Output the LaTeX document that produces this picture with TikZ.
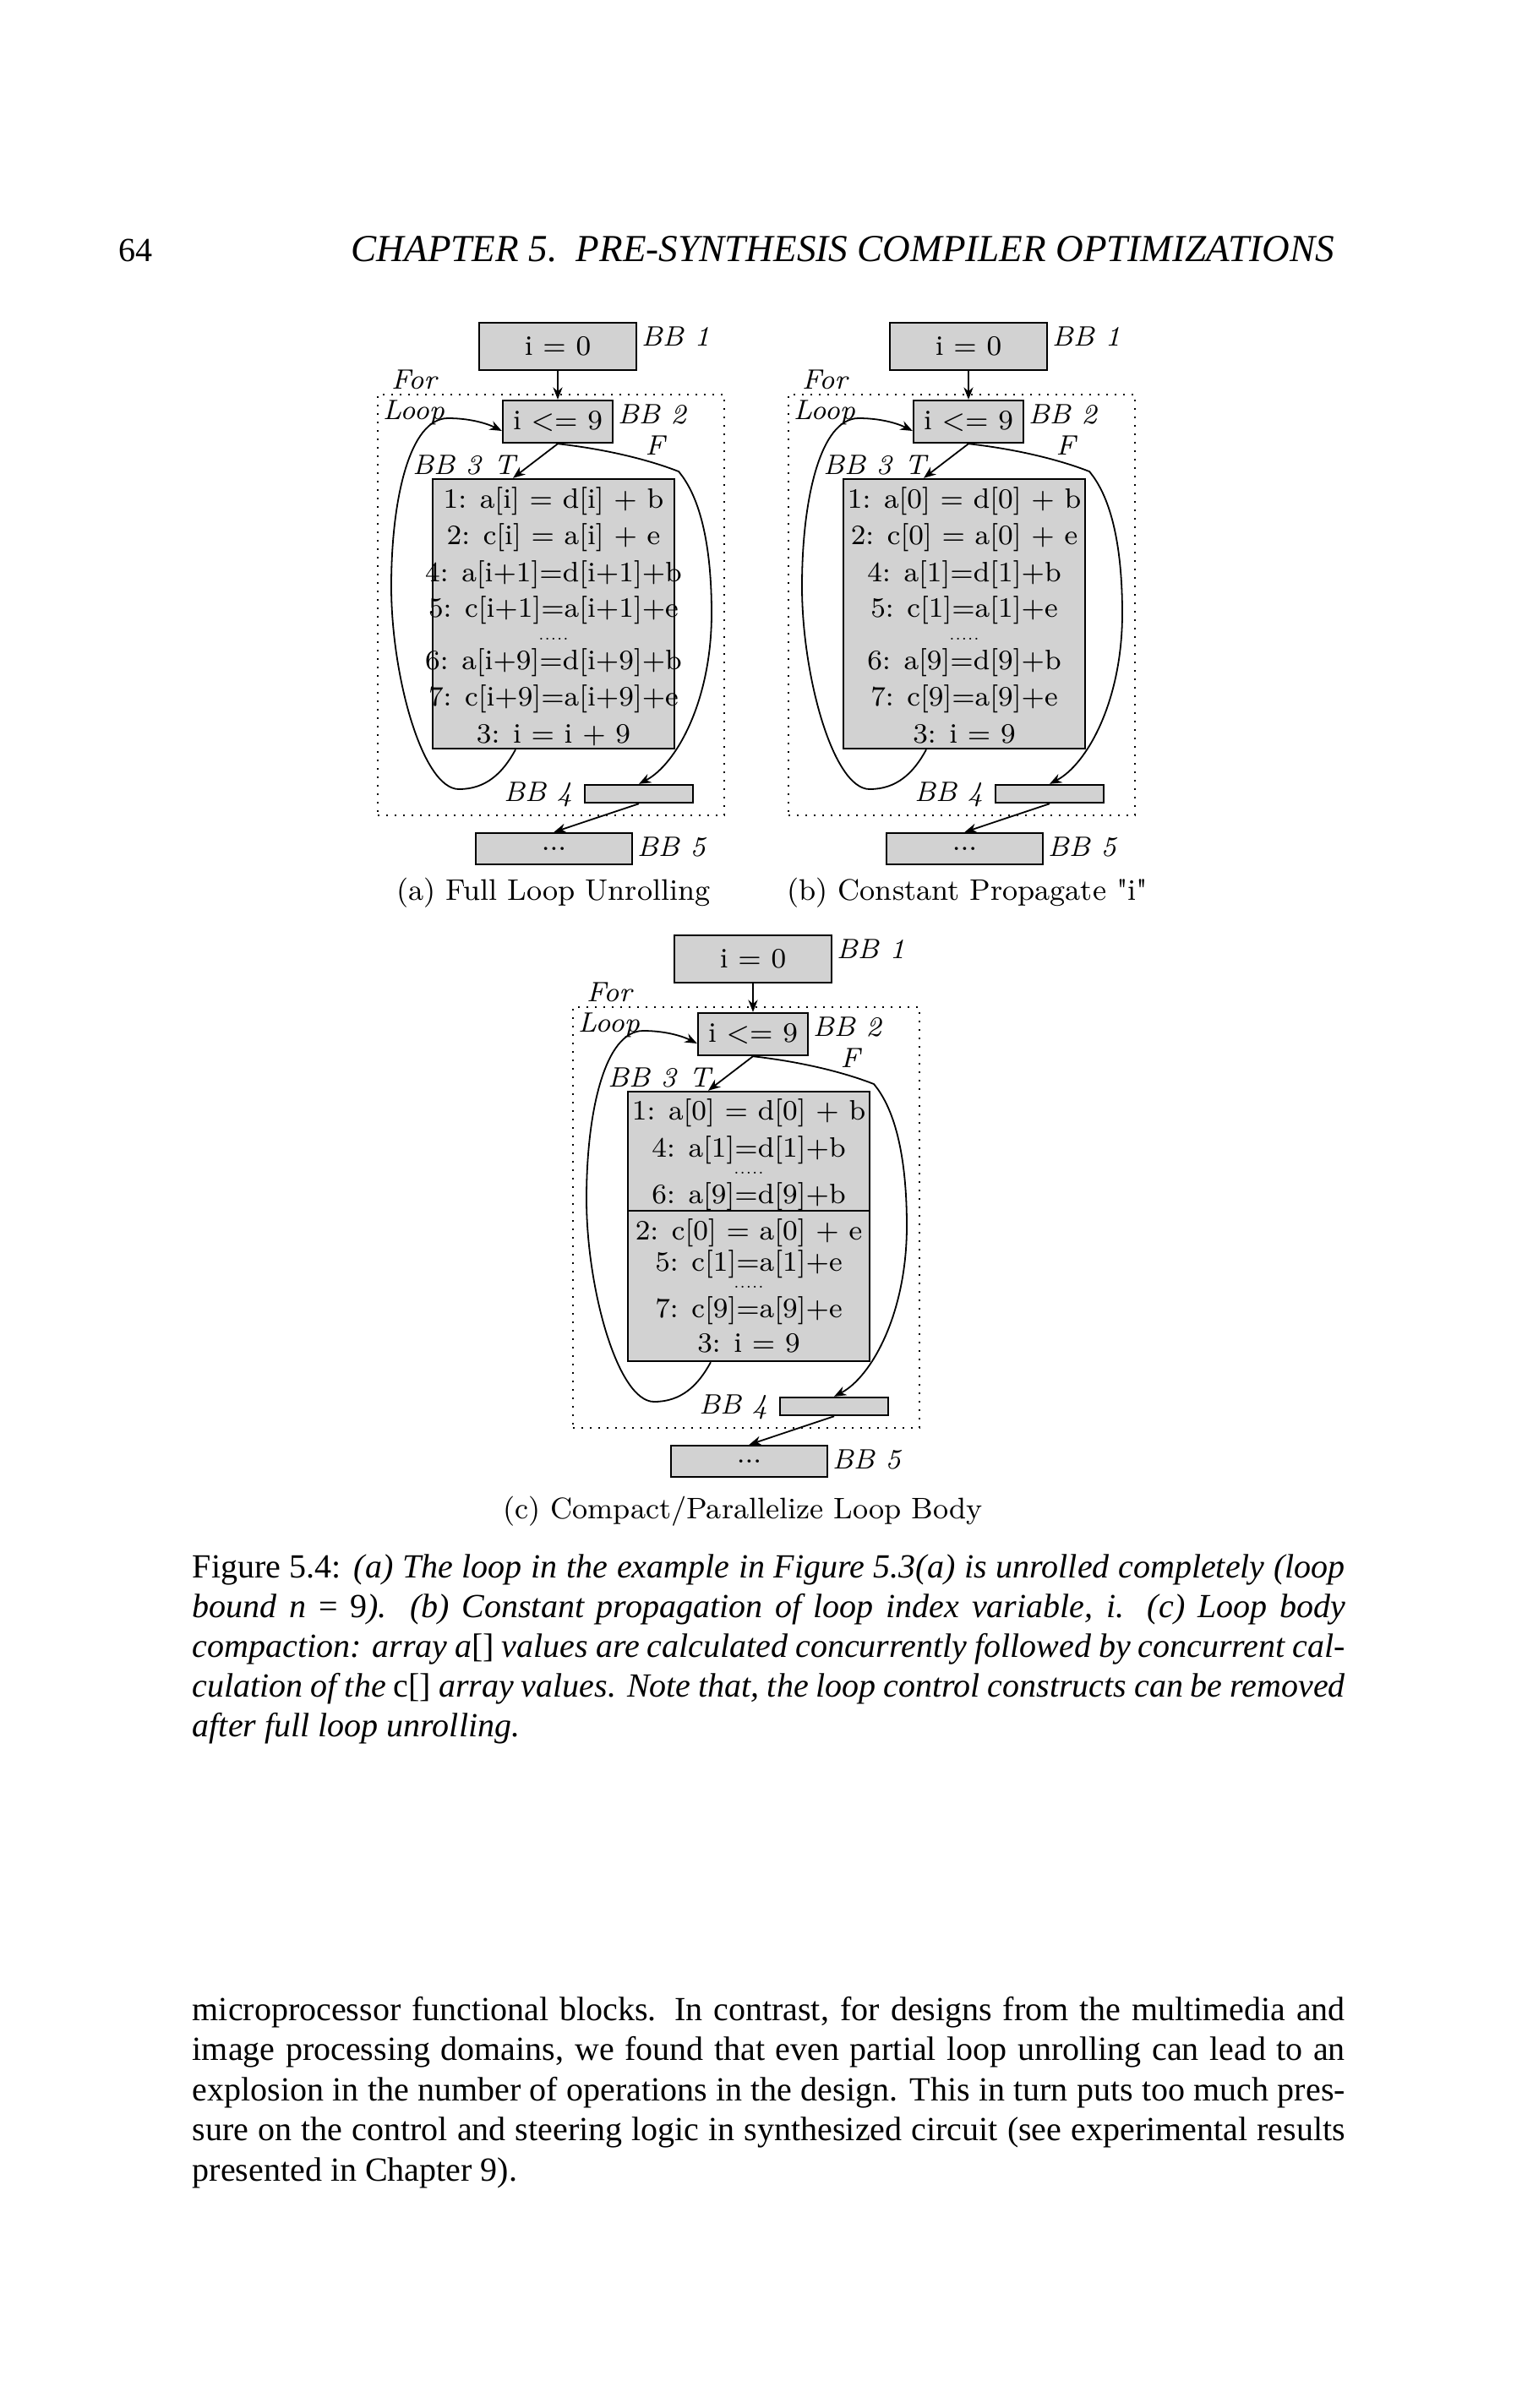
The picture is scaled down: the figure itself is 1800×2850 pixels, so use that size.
\documentclass[tikz,border=0pt]{standalone}
\usepackage{fontspec}
\newfontfamily\pagefont{Liberation Serif}
\usetikzlibrary{arrows.meta, positioning}

\begin{document}
\begin{tikzpicture}[
    x=0.25pt, y=-0.25pt,
    bb/.style={draw, fill=gray!35, line width=0.6pt, inner sep=0pt, font=\fontsize{8.3}{10}\selectfont},
    bblabel/.style={inner sep=0pt, font=\fontsize{8.3}{10}\selectfont\itshape},
    stmt/.style={anchor=base, inner sep=0pt, font=\fontsize{8.3}{10}\selectfont},
    loopframe/.style={draw, dotted, line width=0.5pt},
    arr/.style={-{Stealth[length=3.6pt, width=2.8pt]}, line width=0.45pt},
    subcap/.style={inner sep=0pt, font=\fontsize{8.8}{10}\selectfont},
    pagetext/.style={anchor=base west, inner sep=0pt, font=\pagefont\fontsize{10}{12}\selectfont},
    captext/.style={pagetext, font=\pagefont\itshape\fontsize{10}{12}\selectfont}
]
\useasboundingbox[fill=white] (0,0) rectangle (1800,2850);

% running head
\node[pagetext] (pageno) at (140,309) {64};
\node[captext, font=\pagefont\itshape\fontsize{11.3}{13}\selectfont] (runhead) at (415,309) {CHAPTER 5.\ \ PRE-SYNTHESIS COMPILER OPTIMIZATIONS};

% the three graphs share blocks, frame and edges
\foreach \p/\dx/\dy in {a/0/0, b/486/0, c/231/725}{
\begin{scope}[shift={(\dx,\dy)}, name prefix=\p-]
\node[loopframe, minimum width=102.5pt, minimum height=124.5pt] (loop) at (652,716) {};
\node[bb, minimum width=46.5pt, minimum height=14pt] (bb1) at (660,410) {i = 0};
\node[bb, minimum width=32.5pt, minimum height=12.5pt] (bb2) at (660,499) {i <= 9};
\node[bb, minimum width=71.5pt, minimum height=79.75pt] (bb3) at (655,726.5) {};
\node[bb, minimum width=32pt, minimum height=5.25pt] (bb4) at (756,939.5) {};
\node[bb, minimum width=46.25pt, minimum height=9.25pt] (bb5) at (655.5,1004.5) {...};

\node[bblabel, anchor=west] (name1) at (758,398) {BB 1};
\node[bblabel, anchor=west] (name2) at (730,490) {BB 2};
\node[bblabel, anchor=east] (name3) at (570,550) {BB 3};
\node[bblabel, anchor=east] (name4) at (678,940) {BB 4};
\node[bblabel, anchor=west] (name5) at (753,1002) {BB 5};
\node[bblabel, anchor=west] (for) at (462,449) {For};
\node[bblabel, anchor=west] (loopname) at (452,488) {Loop};
\node[bblabel] (true) at (597,550) {T};
\node[bblabel] (false) at (775,527) {F};

\draw[arr] (bb1) -- (bb2);
\draw[arr] (bb2.south) -- ([xshift=-12pt]bb3.north);
% back edge round the left side
\draw[arr] ([xshift=-11.25pt]bb3.south) .. controls (595,915) and (575,934) .. (543,934)
    .. controls (500,934) and (463,800) .. (463,694)
    .. controls (463,590) and (485,495) .. (530,495)
    .. controls (560,495) and (580,503) .. ([yshift=-2.75pt]bb2.west);
% exit edge round the right side
\draw[arr] (bb2.south) .. controls (720,532) and (770,545) .. (803,558)
    .. controls (830,590) and (842,650) .. (842,726)
    .. controls (842,830) and (800,905) .. (bb4.north);
\draw[arr] (bb4.south) -- (bb5.north);
\end{scope}
}

% loop bodies
\foreach \y/\txt [count=\row] in {601/{1: a[i] = d[i] + b}, 644/{2: c[i] = a[i] + e}, 688/{4: a[i+1]=d[i+1]+b},
    730/{5: c[i+1]=a[i+1]+e}, 757/{{\fontsize{4.5}{5}\selectfont .....}}, 792/{6: a[i+9]=d[i+9]+b},
    835/{7: c[i+9]=a[i+9]+e}, 879/{3: i = i + 9}}
  \node[stmt] (a-s\row) at (655,\y) {\txt};
\foreach \y/\txt [count=\row] in {601/{1: a[0] = d[0] + b}, 644/{2: c[0] = a[0] + e}, 688/{4: a[1]=d[1]+b},
    730/{5: c[1]=a[1]+e}, 757/{{\fontsize{4.5}{5}\selectfont .....}}, 792/{6: a[9]=d[9]+b},
    835/{7: c[9]=a[9]+e}, 879/{3: i = 9}}
  \node[stmt] (b-s\row) at (1141,\y) {\txt};
\foreach \y/\txt [count=\row] in {1325/{1: a[0] = d[0] + b}, 1369/{4: a[1]=d[1]+b}, 1389/{{\fontsize{4.5}{5}\selectfont .....}},
    1424/{6: a[9]=d[9]+b}, 1467/{2: c[0] = a[0] + e}, 1504/{5: c[1]=a[1]+e},
    1524/{{\fontsize{4.5}{5}\selectfont .....}}, 1559/{7: c[9]=a[9]+e}, 1600/{3: i = 9}}
  \node[stmt] (c-s\row) at (886,\y) {\txt};
\draw[line width=0.6pt] ([yshift=-35.5pt]c-bb3.north west) -- ([yshift=-35.5pt]c-bb3.north east);

% sub-captions
\node[subcap] (capa) at (655,1057) {(a) Full Loop Unrolling};
\node[subcap] (capb) at (1145,1057) {(b) Constant Propagate \textquotedbl i\textquotedbl};
\node[subcap] (capc) at (879,1789) {(c) Compact/Parallelize Loop Body};

% figure caption
\foreach \txt [count=\row] in {
    {\textup{Figure 5.4:} (a) The loop in the example in Figure 5.3(a) is unrolled completely (loop},
    {bound n \textup{= 9}).  (b) Constant propagation of loop index variable, i.  (c) Loop body},
    {compaction: array a\textup{[]} values are calculated concurrently followed by concurrent cal-},
    {culation of the \textup{c[]} array values. Note that, the loop control constructs can be removed}}
  \node[captext] (figcap\row) at (227,{1867+47*(\row-1)}) {\makebox[341pt][s]{\txt}};
\node[captext] (figcap5) at (227,2055) {after full loop unrolling.};

% running text
\foreach \txt [count=\row] in {
    {microprocessor functional blocks.  In contrast, for designs from the multimedia and},
    {image processing domains, we found that even partial loop unrolling can lead to an},
    {explosion in the number of operations in the design.  This in turn puts too much pres-},
    {sure on the control and steering logic in synthesized circuit (see experimental results}}
  \node[pagetext] (body\row) at (227,{2391+47.5*(\row-1)}) {\makebox[341pt][s]{\txt}};
\node[pagetext] (body5) at (227,2581) {presented in Chapter 9).};
\end{tikzpicture}
\end{document}
